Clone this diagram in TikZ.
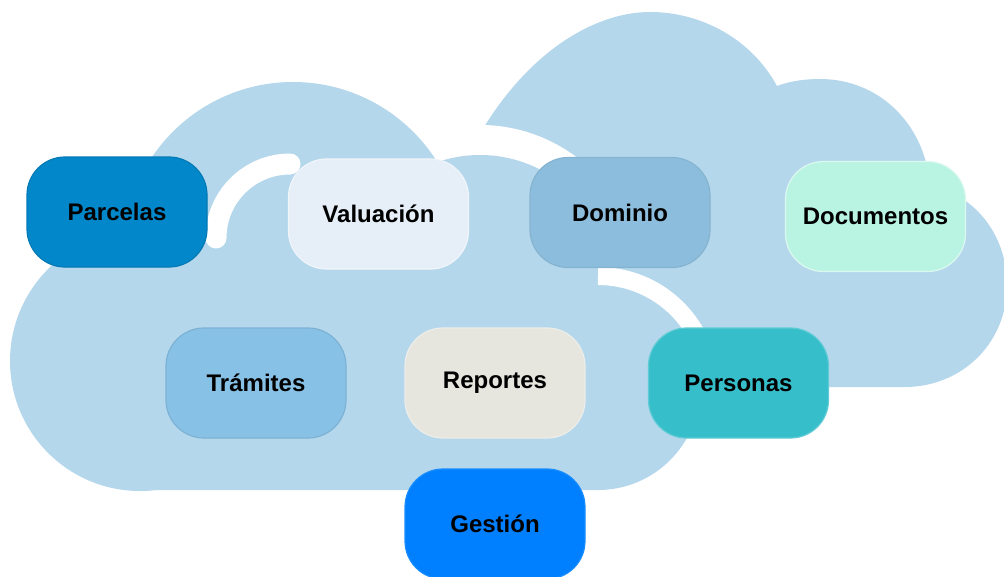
\documentclass[tikz,border=0pt]{standalone}
\usepackage{fontspec}
\setmainfont{Liberation Sans}
\definecolor{nube}{HTML}{B4D7EC}
\definecolor{cParcelas}{HTML}{0288CA}
\definecolor{cValuacion}{HTML}{E6EFF7}
\definecolor{cDominio}{HTML}{8CBDDC}
\definecolor{cDocumentos}{HTML}{B9F3E2}
\definecolor{cTramites}{HTML}{88C1E6}
\definecolor{cReportes}{HTML}{E6E6DF}
\definecolor{cPersonas}{HTML}{37BECB}
\definecolor{cGestion}{HTML}{0080FF}
\tikzset{
    modulo/.style={rounded corners=38pt, minimum width=180pt, minimum height=110pt,
        line width=1.2pt, text=black, font=\fontsize{24}{28}\selectfont\bfseries},
}
\newcommand\Modulo[5]{%
    \node[modulo, fill=#3, draw=#4] (#1) at (#2) {#5};
}

\begin{document}
\begin{tikzpicture}[x=1pt,y=-1pt]
    \clip (0,0) rectangle (1004,576);
    % nube de atras
    \fill[nube] (484,127) .. controls (535,45) and (600,12) .. (650,12)
        .. controls (702.5,12) and (752,40) .. (777,86)
        .. controls (790,81) and (805,79) .. (820,79)
        .. controls (880,79) and (925,125) .. (930,185)
        .. controls (975,195) and (1007,235) .. (1007,285)
        .. controls (1007,345) and (960,387) .. (905,387) -- (484,387) -- cycle;
    \draw[white, line width=40pt] (480,286) ++(200:141) arc[start angle=200, end angle=345, radius=141];
    % nube de adelante
    \fill[nube] (140,361) circle[radius=130] (293,252) circle[radius=170]
        (480,286) circle[radius=131] (598,388) circle[radius=102];
    \fill[nube] (124,232) -- (437,162) -- (611,287) -- (598,490) -- (140,490) -- cycle;
    \draw[white, line width=18pt] (598,388) ++(270:112) arc[start angle=270, end angle=360, radius=112];
    \draw[white, line width=21pt, line cap=round] (290,238) ++(180:74) arc[start angle=180, end angle=270, radius=74];
    % modulos
    \Modulo{parcelas}{117,212}{cParcelas}{cParcelas!90!black}{Parcelas}
    \Modulo{valuacion}{378.5,214}{cValuacion}{cValuacion!60!white}{Valuación}
    \Modulo{dominio}{620,212.5}{cDominio}{cDominio!95!black}{Dominio}
    \Modulo{documentos}{875.5,216.5}{cDocumentos}{cDocumentos!50!white}{Documentos}
    \Modulo{tramites}{256,383}{cTramites}{cTramites!92!black}{Trámites}
    \Modulo{reportes}{495,383}{cReportes}{cReportes!70!white}{Reportes}
    \Modulo{personas}{738.5,383}{cPersonas}{cPersonas!80!white}{Personas}
    \Modulo{gestion}{495,524}{cGestion}{cGestion!90!white}{Gestión}
\end{tikzpicture}
\end{document}
